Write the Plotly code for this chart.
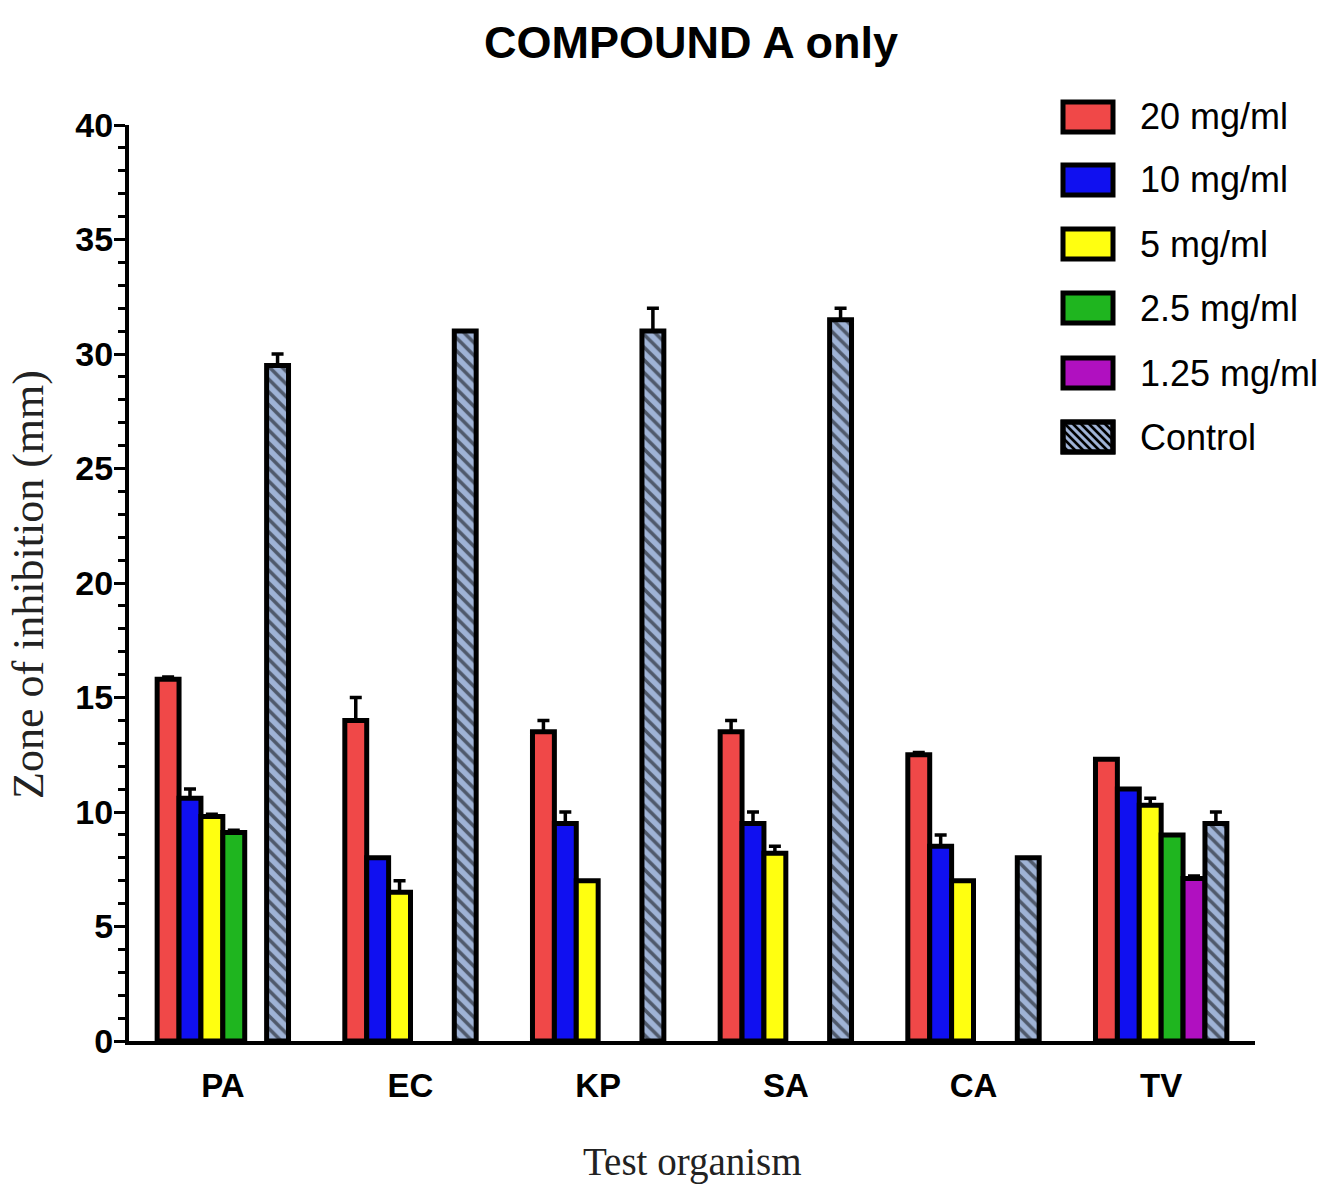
import plotly.graph_objects as go

categories = ["PA", "EC", "KP", "SA", "CA", "TV"]
series_names = ["20 mg/ml", "10 mg/ml", "5 mg/ml", "2.5 mg/ml", "1.25 mg/ml", "Control"]

v20 = [15.8, 14.0, 13.5, 13.5, 12.5, 12.3]
e20 = [0.1, 1.0, 0.5, 0.5, 0.1, 0.0]
v10 = [10.6, 8.0, 9.5, 9.5, 8.5, 11.0]
e10 = [0.4, 0.0, 0.5, 0.5, 0.5, 0.0]
v5 = [9.8, 6.5, 7.0, 8.2, 7.0, 10.3]
e5 = [0.1, 0.5, 0.0, 0.3, 0.0, 0.3]
v2_5 = [9.1, None, None, None, None, 9.0]
e2_5 = [0.1, 0.0, 0.0, 0.0, 0.0, 0.0]
v1_25 = [None, None, None, None, None, 7.1]
e1_25 = [0.0, 0.0, 0.0, 0.0, 0.0, 0.1]
vctrl = [29.5, 31.0, 31.0, 31.5, 8.0, 9.5]
ectrl = [0.5, 0.0, 1.0, 0.5, 0.0, 0.5]

colors = ["#f04848", "#1010f0", "#ffff10", "#1fb51f", "#b010c0", "#9fb3d6"]
values = [v20, v10, v5, v2_5, v1_25, vctrl]
errors = [e20, e10, e5, e2_5, e1_25, ectrl]

fig = go.Figure()
for i, (name, vals, errs, col) in enumerate(zip(series_names, values, errors, colors)):
    marker = dict(color=col, line=dict(color="black", width=5))
    if name == "Control":
        marker["pattern"] = dict(shape="\\", fgcolor="black", bgcolor=col, size=9, solidity=0.4)
    fig.add_trace(go.Bar(
        x=categories, y=vals, name=name, marker=marker,
        error_y=dict(type="data", array=errs, arrayminus=[0] * len(errs), symmetric=False,
                     color="black", thickness=3.5, width=6),
        showlegend=False,
    ))

W, H = 1327, 1186
L, R, T, B = 129, 1255, 125, 1041


def px2x(px):
    return (px - L) / (R - L)


def px2y(py):
    return (B - py) / (B - T)


shapes = []
annotations = []
row_centers = [117, 180, 244, 308, 373, 437]
bx0, bx1 = 1063, 1113
bh = 30
for name, col, cy in zip(series_names, colors, row_centers):
    y0, y1 = cy - bh / 2, cy + bh / 2
    shapes.append(dict(type="rect", xref="paper", yref="paper",
                       x0=px2x(bx0), x1=px2x(bx1), y0=px2y(y1), y1=px2y(y0),
                       fillcolor=col, line=dict(color="black", width=5), layer="above"))
    if name == "Control":
        step = 8
        c = -(bx1 - bx0) - bh
        while c < bh + (bx1 - bx0):
            pts = []
            for px in (bx0, bx1):
                py = y0 + (px - bx0) + c
                if y0 <= py <= y1:
                    pts.append((px, py))
            for py in (y0, y1):
                px = bx0 + (py - y0) - c
                if bx0 <= px <= bx1:
                    pts.append((px, py))
            pts = sorted(set(pts))
            if len(pts) >= 2:
                (ax, ay), (bxp, byp) = pts[0], pts[-1]
                shapes.append(dict(type="line", xref="paper", yref="paper",
                                   x0=px2x(ax), y0=px2y(ay), x1=px2x(bxp), y1=px2y(byp),
                                   line=dict(color="black", width=2.5), layer="above"))
            c += step
        shapes.append(dict(type="rect", xref="paper", yref="paper",
                           x0=px2x(bx0), x1=px2x(bx1), y0=px2y(y1), y1=px2y(y0),
                           fillcolor="rgba(0,0,0,0)", line=dict(color="black", width=5), layer="above"))
    annotations.append(dict(text=name, xref="paper", yref="paper", x=px2x(1138), y=px2y(cy),
                            xanchor="left", yanchor="middle", showarrow=False,
                            font=dict(family="Liberation Sans, Arial", size=36, color="black")))

annotations.append(dict(text="Zone of inhibition (mm)", xref="paper", yref="paper",
                        x=px2x(28), y=px2y(585), textangle=-90, xanchor="center", yanchor="middle",
                        showarrow=False,
                        font=dict(family="Liberation Serif, Times New Roman", size=44, color="#222")))
annotations.append(dict(text="Test organism", xref="paper", yref="paper",
                        x=px2x(692), y=px2y(1162), xanchor="center", yanchor="middle",
                        showarrow=False,
                        font=dict(family="Liberation Serif, Times New Roman", size=39, color="#222")))

fig.update_layout(
    width=W, height=H,
    margin=dict(l=L, r=W - R, t=T, b=H - B, pad=0),
    paper_bgcolor="white", plot_bgcolor="white",
    barmode="group", bargap=0.3, bargroupgap=0,
    title=dict(text="<b>COMPOUND A only</b>", x=691 / W, xanchor="center",
               y=1 - 42 / H, yanchor="middle", yref="container",
               font=dict(family="Liberation Sans, Arial", size=45, color="black")),
    xaxis=dict(range=[-0.5, 5.5], showgrid=False, zeroline=False, showline=True,
               linecolor="black", linewidth=4, ticks="", ticklabelstandoff=12,
               tickfont=dict(family="Liberation Sans, Arial", size=33, color="black", weight="bold")),
    yaxis=dict(range=[0, 40], showgrid=False, zeroline=False, showline=True,
               linecolor="black", linewidth=4, ticks="outside", ticklen=11, tickwidth=3,
               tickcolor="black", tick0=0, dtick=5, ticklabelstandoff=-6,
               minor=dict(ticks="outside", ticklen=7, tickwidth=3, tickcolor="black", dtick=1, showgrid=False),
               tickfont=dict(family="Liberation Sans, Arial", size=34, color="black", weight="bold")),
    shapes=shapes, annotations=annotations,
)

fig.write_html("out.html")
